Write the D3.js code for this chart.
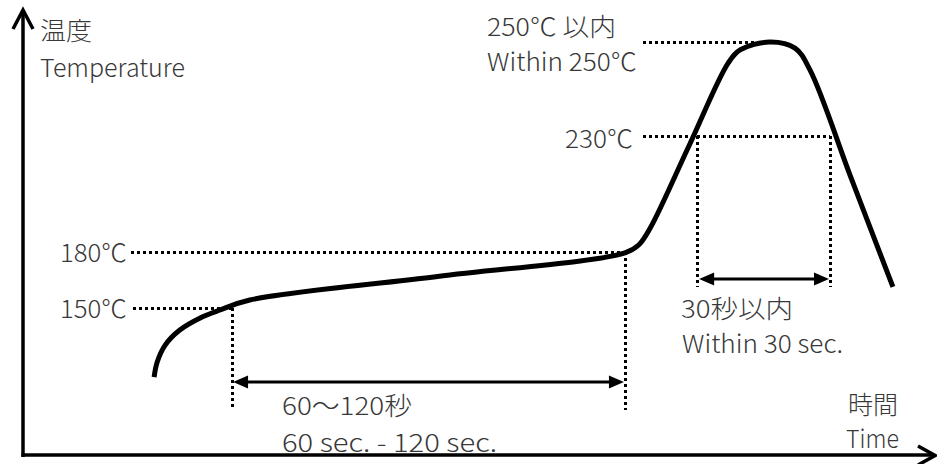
<!DOCTYPE html>
<html><head><meta charset="utf-8">
<script src="https://cdn.jsdelivr.net/npm/d3@7"></script>
<style>
body{margin:0;background:#fff}
text{font-family:"Noto Sans CJK JP","Noto Sans",sans-serif;font-weight:300;fill:#383838}
</style>
</head><body>
<svg id="c" width="937" height="464"></svg>
<script>
// ---- data (time in s, temperature in °C; schematic) ----
const profileTime = [29.6, 30.3, 32.1, 35.4, 40.0, 44.5, 51.2, 93.6, 135.9, 139.0, 141.6, 150.4, 159.2, 161.9, 168.6, 174.3, 177.7, 187.0, 196.4];
const profileTemp = [91.7, 104.4, 118.7, 131.4, 141.6, 148.3, 154.3, 166.9, 179.5, 183.0, 190.3, 225.9, 245.5, 248.3, 250.0, 248.7, 244.0, 211.7, 161.3];
const levelTemps  = [150, 180, 230, 250];
const levelLabels = ["150℃", "180℃", "230℃", "250℃ 以内"];
const levelEndTime = [47.2, 135.9, 182.2, 168.6];
const preheatWindow = [47.2, 135.9];   // 60～120 s
const peakWindow    = [152.2, 182.2];  // 30 s
const preheatLabels = ["60～120秒", "60 sec. - 120 sec."];
const peakLabels    = ["30秒以内", "Within 30 sec."];
const axisLabels    = ["温度", "Temperature", "時間", "Time"];

const svg = d3.select("#c");
const x = d3.scaleLinear().domain([0, 205]).range([23, 931]);
const y = d3.scaleLinear().domain([25, 150, 180, 230, 250]).range([456, 308, 252, 136, 42]);

// axes
const xAxis = svg.append("g").attr("transform", "translate(0,455)")
  .call(d3.axisBottom(x).tickValues([]).tickSizeOuter(0));
xAxis.select(".domain").attr("stroke", "#000").attr("stroke-width", 3.5)
  .attr("d", `M${x(0)-1.5},0H${x(205)+3}`);
const yAxis = svg.append("g").attr("transform", "translate(23,0)")
  .call(d3.axisLeft(y).tickValues([]).tickSizeOuter(0));
yAxis.select(".domain").attr("stroke", "#000").attr("stroke-width", 3.5)
  .attr("d", `M0,${y(25)+1}V12`);
// axis arrow heads
svg.append("path").attr("d", "M13,29L23,10L33,29").attr("fill", "none")
  .attr("stroke", "#000").attr("stroke-width", 3.5);
svg.append("path").attr("d", "M918,446L935,455.5L918,465").attr("fill", "none")
  .attr("stroke", "#000").attr("stroke-width", 3.5);

const dotted = (g) => g.attr("stroke", "#000").attr("stroke-width", 3).attr("stroke-dasharray", "3,3")
  .attr("shape-rendering", "crispEdges").attr("fill", "none");

// horizontal reference lines
const levelStartX = [133, 131, 643, 643];
levelTemps.forEach((t, i) => {
  svg.append("line").attr("x1", levelStartX[i]).attr("x2", x(levelEndTime[i]))
    .attr("y1", Math.round(y(t)) + 0.5).attr("y2", Math.round(y(t)) + 0.5).call(dotted);
});
// vertical reference lines
[[preheatWindow[0], 150, 410], [preheatWindow[1], 180, 410], [peakWindow[0], 230, 287], [peakWindow[1], 230, 287]]
  .forEach(([t, temp, yb]) => {
    const xx = Math.round(x(t)) + 0.5;
    svg.append("line").attr("x1", xx).attr("x2", xx).attr("y1", y(temp)).attr("y2", yb).call(dotted);
  });

// profile curve
const pts = profileTime.map((t, i) => [t, profileTemp[i]]);
svg.append("path").datum(pts)
  .attr("d", d3.line().x(d => x(d[0])).y(d => y(d[1])).curve(d3.curveCatmullRom.alpha(0.5)))
  .attr("fill", "none").attr("stroke", "#000").attr("stroke-width", 5).attr("stroke-linejoin", "round");

// double arrows
function dblArrow(x1, x2, yy) {
  const L = 15, H = 6.5;
  svg.append("line").attr("x1", x1 + 6).attr("x2", x2 - 6).attr("y1", yy).attr("y2", yy)
    .attr("stroke", "#000").attr("stroke-width", 3);
  svg.append("path").attr("d", `M${x1},${yy}L${x1+L},${yy-H}L${x1+L},${yy+H}Z`).attr("fill", "#000");
  svg.append("path").attr("d", `M${x2},${yy}L${x2-L},${yy-H}L${x2-L},${yy+H}Z`).attr("fill", "#000");
}
dblArrow(x(preheatWindow[0]) + 1, x(preheatWindow[1]) - 1, 382);
dblArrow(x(peakWindow[0]) + 2, x(peakWindow[1]) - 1, 279);

// texts
function txt(s, tx, ty, len, size) {
  svg.append("text").attr("x", tx).attr("y", ty).attr("font-size", size || 25)
    .attr("textLength", len).attr("lengthAdjust", "spacingAndGlyphs").text(s);
}
txt(axisLabels[0], 40, 40, 52);
txt(axisLabels[1], 40, 77, 145);
txt(levelLabels[1], 60, 262, 67);
txt(levelLabels[0], 60, 318, 67);
txt(levelLabels[2], 565, 148, 68);
txt(levelLabels[3], 487, 36, 129);
txt("Within 250℃", 487, 71, 150);
txt(peakLabels[0], 681, 318, 112);
txt(peakLabels[1], 682, 353, 161);
txt(preheatLabels[0], 282, 415, 130);
txt(preheatLabels[1], 282, 452, 215);
txt(axisLabels[2], 848, 414, 50);
txt(axisLabels[3], 846, 448, 53);
</script>
</body></html>
